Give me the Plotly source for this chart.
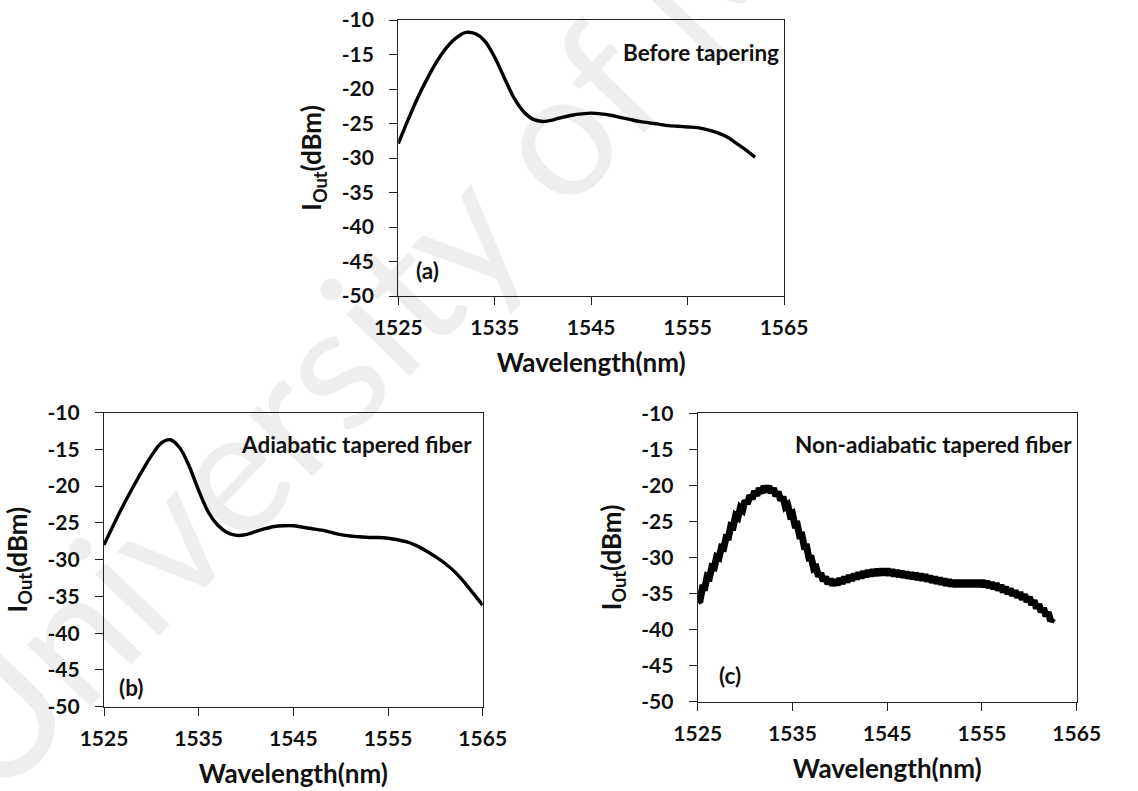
import plotly.graph_objects as go

# ---------------- data ----------------
x_ticks = [1525, 1535, 1545, 1555, 1565]
x_tick_text = ["1525", "1535", "1545", "1555", "1565"]
y_ticks = [-10, -15, -20, -25, -30, -35, -40, -45, -50]
y_tick_text = ["-10", "-15", "-20", "-25", "-30", "-35", "-40", "-45", "-50"]

# (a) before tapering
a_wl = [1525, 1526, 1527, 1528, 1529, 1530, 1531, 1532, 1533, 1534,
        1535, 1536, 1537, 1538, 1539, 1540, 1541, 1542, 1543, 1544,
        1545, 1546, 1547, 1548, 1549, 1550, 1551, 1552, 1553, 1554,
        1555, 1556, 1557, 1558, 1559, 1560, 1561, 1562]
a_val = [-27.9, -24.5, -21.3, -18.5, -16.0, -14.0, -12.6, -11.8, -12.0, -13.1,
         -15.4, -18.4, -21.3, -23.3, -24.4, -24.7, -24.5, -24.1, -23.8, -23.6,
         -23.5, -23.6, -23.8, -24.1, -24.4, -24.7, -24.9, -25.1, -25.3, -25.4,
         -25.5, -25.6, -25.9, -26.3, -26.9, -27.8, -28.8, -29.9]

# (b) adiabatic tapered fiber
b_wl = [1525, 1526, 1527, 1528, 1529, 1530, 1531, 1532, 1533, 1534,
        1535, 1536, 1537, 1538, 1539, 1540, 1541, 1542, 1543, 1544,
        1545, 1546, 1547, 1548, 1549, 1550, 1551, 1552, 1553, 1554,
        1555, 1556, 1557, 1558, 1559, 1560, 1561, 1562, 1563, 1564, 1565]
b_val = [-28.0, -25.3, -22.7, -20.3, -18.0, -15.9, -14.2, -13.7, -14.8, -17.3,
         -20.6, -23.5, -25.3, -26.3, -26.7, -26.6, -26.2, -25.8, -25.5, -25.4,
         -25.4, -25.6, -25.8, -26.0, -26.3, -26.6, -26.8, -26.9, -27.0, -27.0,
         -27.1, -27.3, -27.6, -28.1, -28.8, -29.6, -30.5, -31.6, -33.0, -34.6, -36.2]

# (c) non-adiabatic tapered fiber: ripple maxima and minima
c_peak_wl = [1525.0, 1525.5, 1526.0, 1526.5, 1527.0, 1527.5, 1528.0, 1528.5, 1529.0, 1529.5,
             1530.0, 1530.5, 1531.0, 1531.5, 1532.0, 1532.5, 1533.0, 1533.5, 1534.0, 1534.5,
             1535.0, 1535.5, 1536.0, 1536.5, 1537.0, 1537.5, 1538.0, 1538.5, 1539.0, 1539.5,
             1540.0, 1540.5, 1541.0, 1541.5, 1542.0, 1542.5, 1543.0, 1543.5, 1544.0, 1544.5,
             1545.0, 1545.5, 1546.0, 1546.5, 1547.0, 1547.5, 1548.0, 1548.5, 1549.0, 1549.5,
             1550.0, 1550.5, 1551.0, 1551.5, 1552.0, 1552.5, 1553.0, 1553.5, 1554.0, 1554.5,
             1555.0, 1555.5, 1556.0, 1556.5, 1557.0, 1557.5, 1558.0, 1558.5, 1559.0, 1559.5,
             1560.0, 1560.5, 1561.0, 1561.5, 1562.0, 1562.5]
c_peak_val = [-36.1, -34.2, -32.6, -31.3, -29.9, -28.6, -27.2, -25.6, -24.2, -23.1,
              -22.1, -21.4, -20.8, -20.4, -20.1, -20.1, -20.4, -20.9, -21.6, -22.7,
              -23.9, -25.4, -26.9, -28.5, -30.1, -31.4, -32.2, -32.7, -33.0, -33.1,
              -32.9, -32.7, -32.5, -32.3, -32.1, -31.95, -31.8, -31.7, -31.65, -31.6,
              -31.6, -31.7, -31.8, -31.9, -32.0, -32.1, -32.2, -32.3, -32.4, -32.55,
              -32.7, -32.85, -33.0, -33.1, -33.2, -33.2, -33.2, -33.2, -33.2, -33.2,
              -33.2, -33.3, -33.45, -33.6, -33.85, -34.1, -34.35, -34.6, -34.85, -35.15,
              -35.5, -35.95, -36.5, -37.0, -37.6, -38.4]
c_trough_wl = [1525.25, 1525.75, 1526.25, 1526.75, 1527.25, 1527.75, 1528.25, 1528.75, 1529.25, 1529.75,
               1530.25, 1530.75, 1531.25, 1531.75, 1532.25, 1532.75, 1533.25, 1533.75, 1534.25, 1534.75,
               1535.25, 1535.75, 1536.25, 1536.75, 1537.25, 1537.75, 1538.25, 1538.75, 1539.25, 1539.75,
               1540.25, 1540.75, 1541.25, 1541.75, 1542.25, 1542.75, 1543.25, 1543.75, 1544.25, 1544.75,
               1545.25, 1545.75, 1546.25, 1546.75, 1547.25, 1547.75, 1548.25, 1548.75, 1549.25, 1549.75,
               1550.25, 1550.75, 1551.25, 1551.75, 1552.25, 1552.75, 1553.25, 1553.75, 1554.25, 1554.75,
               1555.25, 1555.75, 1556.25, 1556.75, 1557.25, 1557.75, 1558.25, 1558.75, 1559.25, 1559.75,
               1560.25, 1560.75, 1561.25, 1561.75, 1562.25]
c_trough_val = [-35.95, -34.2, -32.75, -31.4, -30.05, -28.7, -27.2, -25.7, -24.45, -23.4,
                -22.55, -21.9, -21.4, -21.05, -20.9, -21.05, -21.45, -22.05, -22.95, -24.1,
                -25.45, -26.95, -28.5, -30.1, -31.55, -32.6, -33.25, -33.65, -33.85, -33.8,
                -33.6, -33.4, -33.2, -33.0, -32.83, -32.68, -32.55, -32.48, -32.43, -32.4,
                -32.45, -32.55, -32.65, -32.75, -32.85, -32.95, -33.05, -33.15, -33.28, -33.43,
                -33.58, -33.73, -33.85, -33.95, -34.0, -34.0, -34.0, -34.0, -34.0, -34.0,
                -34.05, -34.18, -34.33, -34.53, -34.78, -35.03, -35.28, -35.53, -35.8, -36.13,
                -36.53, -37.03, -37.55, -38.1, -38.8]

# interleave maxima and minima into one trace
c_wl, c_val = [], []
for i in range(len(c_peak_wl)):
    c_wl.append(c_peak_wl[i]); c_val.append(c_peak_val[i])
    if i < len(c_trough_wl):
        c_wl.append(c_trough_wl[i]); c_val.append(c_trough_val[i])

# ---------------- figure ----------------
W, H = 1138, 791
FONT = "Lato"

def px_x(p):
    return p / W

def px_y(p):
    return 1 - p / H

fig = go.Figure()
fig.add_trace(go.Scatter(x=a_wl, y=a_val, mode="lines", line=dict(color="black", width=3.4, shape="spline", smoothing=0.8),
                         xaxis="x", yaxis="y", showlegend=False))
fig.add_trace(go.Scatter(x=b_wl, y=b_val, mode="lines", line=dict(color="black", width=3.4, shape="spline", smoothing=0.8),
                         xaxis="x2", yaxis="y2", showlegend=False))
fig.add_trace(go.Scatter(x=c_wl, y=c_val, mode="lines", line=dict(color="black", width=7),
                         xaxis="x3", yaxis="y3", showlegend=False))

tickfont = dict(family=FONT, size=21, color="#111", weight="bold")
titlefont = dict(family=FONT, size=26, color="#111", weight="bold")

def xax(domain, anchor):
    return dict(domain=domain, anchor=anchor, range=[1525, 1565], tickvals=x_ticks, ticktext=x_tick_text,
                ticks="outside", ticklen=8, tickwidth=1.3, tickcolor="#222",
                showline=True, linecolor="#222", linewidth=1.3, mirror=True, automargin=False,
                showgrid=False, zeroline=False, tickfont=tickfont, ticklabelstandoff=5,
                title=dict(text="Wavelength(nm)", font=titlefont, standoff=15))

def yax(domain, anchor):
    return dict(domain=domain, anchor=anchor, range=[-50, -10], tickvals=y_ticks, ticktext=y_tick_text,
                ticks="outside", ticklen=8, tickwidth=1.3, tickcolor="#222",
                showline=True, linecolor="#222", linewidth=1.3, mirror=True, automargin=False,
                showgrid=False, zeroline=False, tickfont=tickfont, ticklabelstandoff=11,
                title=dict(text="I<sub>Out</sub>(dBm)", font=titlefont, standoff=12))

dom_a = ([px_x(398.3), px_x(784)], [px_y(296), px_y(20)])
dom_b = ([px_x(104), px_x(482.7)], [px_y(706.7), px_y(412.5)])
dom_c = ([px_x(697.7), px_x(1076.7)], [px_y(701.7), px_y(413.3)])

fig.update_layout(
    width=W, height=H, margin=dict(l=0, r=0, t=0, b=0, autoexpand=False),
    paper_bgcolor="white", plot_bgcolor="rgba(0,0,0,0)",
    xaxis=xax(dom_a[0], "y"), yaxis=yax(dom_a[1], "x"),
    xaxis2=xax(dom_b[0], "y2"), yaxis2=yax(dom_b[1], "x2"),
    xaxis3=xax(dom_c[0], "y3"), yaxis3=yax(dom_c[1], "x3"),
)

ann_font = dict(family=FONT, size=22.5, color="#111", weight="bold")
annotations = [
    dict(text="University of Malaya", x=px_x(490), y=px_y(195), xref="paper", yref="paper",
         xanchor="center", yanchor="middle",
         showarrow=False, textangle=-46, font=dict(family=FONT, size=175, color="rgba(0,0,0,0.065)")),
    dict(text="Before tapering", x=px_x(781), y=px_y(52), xref="paper", yref="paper",
         xanchor="right", yanchor="middle", showarrow=False, font=ann_font),
    dict(text="(a)", x=px_x(414), y=px_y(270), xref="paper", yref="paper",
         xanchor="left", yanchor="middle", showarrow=False, font=ann_font),
    dict(text="Adiabatic tapered fiber", x=px_x(474), y=px_y(445), xref="paper", yref="paper",
         xanchor="right", yanchor="middle", showarrow=False, font=ann_font),
    dict(text="(b)", x=px_x(117), y=px_y(687), xref="paper", yref="paper",
         xanchor="left", yanchor="middle", showarrow=False, font=ann_font),
    dict(text="Non-adiabatic tapered fiber", x=px_x(1074), y=px_y(445), xref="paper", yref="paper",
         xanchor="right", yanchor="middle", showarrow=False, font=ann_font),
    dict(text="(c)", x=px_x(717), y=px_y(675), xref="paper", yref="paper",
         xanchor="left", yanchor="middle", showarrow=False, font=ann_font),
]
fig.update_layout(annotations=annotations)

fig.write_html("out.html")
